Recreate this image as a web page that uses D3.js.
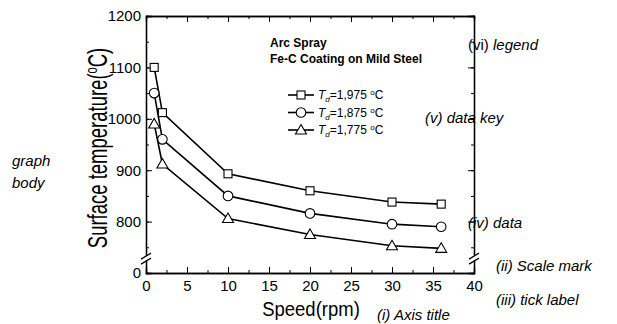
<!DOCTYPE html>
<html>
<head>
<meta charset="utf-8">
<script src="https://cdn.jsdelivr.net/npm/d3@7"></script>
<style>
  body { margin: 0; background: #fff; }
  svg { display: block; }
  text { font-family: "Liberation Sans", Arial, sans-serif; fill: #000; }
  .ann { font-style: italic; font-size: 15px; }
</style>
</head>
<body>
<script>
// speed (rpm) and surface temperature per deposition temperature
var speeds = [1, 2, 10, 20, 30, 36];
var t1975 = [1100, 1012, 893, 860, 838, 834];
var t1875 = [1050, 960, 850, 816, 795, 790];
var t1775 = [990, 912, 806, 775, 753, 748];
var seriesNames = ['1,975', '1,875', '1,775'];
var seriesMarks = ['square', 'circle', 'triangle'];
var xTicks = [0, 5, 10, 15, 20, 25, 30, 35, 40];
var yTicks = [700, 800, 900, 1000, 1100, 1200];

var W = 617, H = 324;
var pLeft = 146, pRight = 474, pTop = 16, pBottom = 273;

var svg = d3.select('body').append('svg')
	.attr('width', W).attr('height', H);

var x = d3.scaleLinear().domain([0, 40]).range([pLeft, pRight]);
var y = d3.scaleLinear().domain([700, 1200]).range([pBottom, pTop]);

function minors(lo, hi, step) {
	return d3.range(lo, hi + step / 2, step);
}

/* inward ticks on all four sides, labels only on bottom / left */
function frame() {
	var g = svg.append('g');
	g.append('g').attr('transform', 'translate(0,' + pBottom + ')')
		.call(d3.axisBottom(x).tickValues(minors(0, 40, 2.5)).tickSize(-3).tickFormat(''));
	g.append('g').attr('transform', 'translate(0,' + pBottom + ')')
		.call(d3.axisBottom(x).tickValues(xTicks).tickSize(-6).tickPadding(7).tickFormat(d3.format('d')));
	g.append('g').attr('transform', 'translate(0,' + pTop + ')')
		.call(d3.axisTop(x).tickValues(minors(0, 40, 2.5)).tickSize(-3).tickFormat(''));
	g.append('g').attr('transform', 'translate(0,' + pTop + ')')
		.call(d3.axisTop(x).tickValues(xTicks).tickSize(-6).tickFormat(''));

	g.append('g').attr('transform', 'translate(' + pLeft + ',0)')
		.call(d3.axisLeft(y).tickValues(minors(750, 1200, 50)).tickSize(-3).tickFormat(''));
	g.append('g').attr('transform', 'translate(' + pLeft + ',0)')
		.call(d3.axisLeft(y).tickValues(yTicks).tickSize(-6).tickPadding(5)
			.tickFormat(function(d) { return d === 700 ? '0' : d; }));
	g.append('g').attr('transform', 'translate(' + pRight + ',0)')
		.call(d3.axisRight(y).tickValues(minors(750, 1200, 50)).tickSize(-3).tickFormat(''));
	g.append('g').attr('transform', 'translate(' + pRight + ',0)')
		.call(d3.axisRight(y).tickValues(yTicks).tickSize(-6).tickFormat(''));

	g.selectAll('.domain').attr('stroke', '#000').attr('stroke-width', 1.3);
	g.selectAll('.tick line').attr('stroke', '#000').attr('stroke-width', 1);
	g.selectAll('.tick text').style('font-size', '15px')
		.style('font-family', '"Liberation Sans", Arial, sans-serif');
	return g;
}
frame();

// axis break marks on both vertical axes
[pLeft, pRight].forEach(function(ax) {
	var yb = y(727);
	svg.append('rect').attr('x', ax - 2).attr('y', yb - 3).attr('width', 4).attr('height', 5)
		.attr('fill', '#fff');
	[-3, 2].forEach(function(o) {
		svg.append('line')
			.attr('x1', ax - 5).attr('y1', yb + o + 3)
			.attr('x2', ax + 5).attr('y2', yb + o - 3)
			.attr('stroke', '#000').attr('stroke-width', 1.2);
	});
});

var line = d3.line()
	.x(function(d) { return x(d[0]); })
	.y(function(d) { return y(d[1]); });

function marker(g, kind) {
	if (kind === 'square')
		g.append('rect').attr('x', -4).attr('y', -4).attr('width', 8).attr('height', 8);
	else if (kind === 'circle')
		g.append('circle').attr('r', 4.8);
	else
		g.append('path').attr('d', 'M0,-5.5L5.5,4L-5.5,4Z');
	g.selectAll('*').attr('fill', '#fff').attr('stroke', '#000').attr('stroke-width', 1.1);
}

[t1975, t1875, t1775].forEach(function(vals, i) {
	var pts = speeds.map(function(s, j) { return [s, vals[j]]; });
	svg.append('path').datum(pts)
		.attr('d', line)
		.attr('fill', 'none').attr('stroke', '#000').attr('stroke-width', 1.6);
	svg.append('g').selectAll('g').data(pts).enter().append('g')
		.attr('transform', function(d) { return 'translate(' + x(d[0]) + ',' + y(d[1]) + ')'; })
		.each(function() { marker(d3.select(this), seriesMarks[i]); });
});

// legend
svg.append('text').attr('x', 270).attr('y', 47)
	.style('font-size', '12px').style('font-weight', 'bold').text('Arc Spray');
svg.append('text').attr('x', 270).attr('y', 63)
	.style('font-size', '12px').style('font-weight', 'bold').text('Fe-C Coating on Mild Steel');

seriesNames.forEach(function(name, i) {
	var ly = 95 + i * 17.5;
	var g = svg.append('g');
	g.append('line').attr('x1', 288).attr('x2', 314).attr('y1', ly).attr('y2', ly)
		.attr('stroke', '#000').attr('stroke-width', 1.6);
	var m = g.append('g').attr('transform', 'translate(301,' + ly + ')');
	marker(m, seriesMarks[i]);
	var t = g.append('text').attr('x', 318).attr('y', ly + 4).style('font-size', '12px');
	t.append('tspan').style('font-style', 'italic').text('T');
	t.append('tspan').attr('dy', 3).style('font-size', '8px').style('font-style', 'italic').text('d');
	t.append('tspan').attr('dy', -3).text('=' + name + ' ');
	t.append('tspan').attr('dy', -4).style('font-size', '8px').text('o');
	t.append('tspan').attr('dy', 4).text('C');
});

// axis titles (the scan's lettering is taller than wide)
var yt = svg.append('text')
	.attr('transform', 'translate(107,148) rotate(-90) scale(1,1.5)')
	.attr('text-anchor', 'middle').style('font-size', '18.5px');
yt.append('tspan').text('Surface temperature(');
yt.append('tspan').attr('dy', -7).style('font-size', '11px').text('o');
yt.append('tspan').attr('dy', 7).text('C)');

svg.append('text').attr('transform', 'translate(311,316) scale(1,1.12)')
	.attr('text-anchor', 'middle').style('font-size', '18.5px').text('Speed(rpm)');

// outside annotations
var notes = [
	{ t: 'graph', x: 12, y: 166 },
	{ t: 'body', x: 12, y: 188 },
	{ t: '(v) data key', x: 425, y: 123 },
	{ t: '(iv) data', x: 468, y: 228 },
	{ t: '(ii) Scale mark', x: 496, y: 271 },
	{ t: '(iii) tick label', x: 496, y: 305 },
	{ t: '(i) Axis title', x: 377, y: 320 }
];
notes.forEach(function(n) {
	svg.append('text').attr('class', 'ann').attr('x', n.x).attr('y', n.y).text(n.t);
});
var lg = svg.append('text').attr('class', 'ann').attr('x', 468).attr('y', 50);
lg.append('tspan').style('font-style', 'normal').text('(vi) ');
lg.append('tspan').text('legend');
</script>
</body>
</html>
